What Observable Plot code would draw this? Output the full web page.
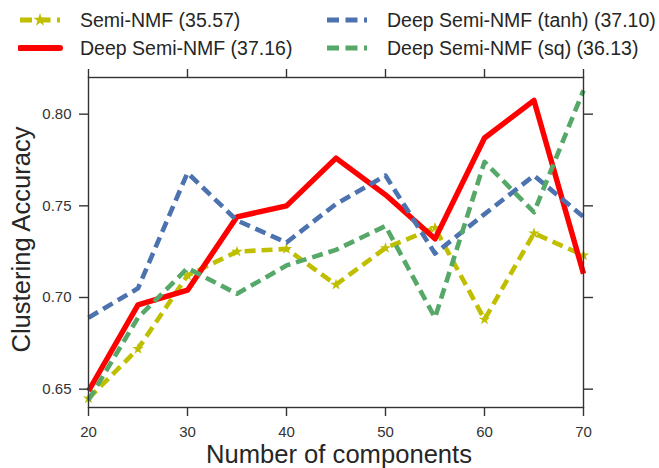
<!DOCTYPE html>
<html>
<head>
<meta charset="utf-8">
<script src="https://cdn.jsdelivr.net/npm/d3@7"></script>
<script src="https://cdn.jsdelivr.net/npm/@observablehq/plot@0.6"></script>
<style>
  html, body { margin: 0; padding: 0; background: #fff; }
  #wrap { position: relative; width: 659px; height: 468px; font-family: "Liberation Sans", Arial, sans-serif; color: #262626; }
  #chart { position: absolute; left: 0; top: 0; }
  .leg { position: absolute; display: flex; align-items: center; font-size: 19.5px; white-space: nowrap; height: 26px; }
  .leg svg { display: block; }
</style>
</head>
<body>
<div id="wrap">
  <div id="chart"></div>
  <div id="legend"></div>
</div>
<script>
// ---- data ----
const components = [20, 25, 30, 35, 40, 45, 50, 55, 60, 65, 70];
const semiNMF     = [0.645, 0.672, 0.712, 0.725, 0.7265, 0.707, 0.727, 0.738, 0.688, 0.735, 0.723];
const deepSemiNMF = [0.649, 0.696, 0.704, 0.744, 0.750, 0.776, 0.756, 0.732, 0.787, 0.8075, 0.713];
const deepTanh    = [0.689, 0.705, 0.768, 0.742, 0.730, 0.751, 0.7665, 0.724, 0.7455, 0.7665, 0.744];
const deepSq      = [0.644, 0.689, 0.716, 0.702, 0.7175, 0.726, 0.739, 0.689, 0.774, 0.7465, 0.813];
const seriesNames = ["Semi-NMF (35.57)", "Deep Semi-NMF (37.16)", "Deep Semi-NMF (tanh) (37.10)", "Deep Semi-NMF (sq) (36.13)"];
const xTicks = [20, 30, 40, 50, 60, 70];
const yTicks = [0.65, 0.70, 0.75, 0.80];
const xLabel = "Number of components";
const yLabel = "Clustering Accuracy";

// ---- styles ----
const colors = ["#bfbf00", "#ff0000", "#4c72b0", "#55a868"];
const dashed = [true, false, true, true];
const seriesValues = [semiNMF, deepSemiNMF, deepTanh, deepSq];
const rows = seriesValues.map((vals, i) => components.map((c, j) => ({x: c, y: vals[j], s: seriesNames[i]})));

const FONT = "'Liberation Sans', Arial, sans-serif";
const AXIS = "#333333";

const lineMarks = rows.map((data, i) => Plot.line(data, {
  x: "x", y: "y",
  stroke: colors[i],
  strokeWidth: dashed[i] ? 4.6 : 5.4,
  strokeDasharray: dashed[i] ? "11,6" : null,
  strokeLinecap: "butt",
  strokeLinejoin: "round"
}));

const chart = Plot.plot({
  width: 659,
  height: 468,
  marginLeft: 88,
  marginRight: 76,
  marginTop: 77,
  marginBottom: 61,
  style: {fontFamily: FONT, color: AXIS, background: "#fff", overflow: "visible"},
  x: {domain: [20, 70]},
  y: {domain: [0.64, 0.82]},
  marks: [
    lineMarks[0],
    Plot.dot(rows[0], {x: "x", y: "y", symbol: "star", r: 3.6, fill: colors[0], stroke: "none"}),
    lineMarks[1],
    lineMarks[2],
    lineMarks[3],
    Plot.frame({stroke: AXIS, strokeWidth: 1.4}),
    Plot.axisY({anchor: "left", ticks: yTicks, tickFormat: d3.format(".2f"), tickSize: 9, tickPadding: 8, fontSize: 15, stroke: AXIS, strokeWidth: 1.4, fill: "#333", label: null}),
    Plot.axisY({anchor: "right", ticks: yTicks, tickFormat: () => "", tickSize: 9, stroke: AXIS, strokeWidth: 1.4, label: null}),
    Plot.axisX({anchor: "bottom", ticks: xTicks, tickFormat: d3.format("d"), tickSize: 9, tickPadding: 10, fontSize: 15, stroke: AXIS, strokeWidth: 1.4, fill: "#333", label: null}),
    Plot.axisX({anchor: "top", ticks: xTicks, tickFormat: () => "", tickSize: 9, stroke: AXIS, strokeWidth: 1.4, label: null}),
    Plot.text([xLabel], {text: d => d, frameAnchor: "bottom", dx: 3, dy: 47, fontSize: 25.6, fill: "#262626", lineAnchor: "middle", textAnchor: "middle"}),
    Plot.text([yLabel], {text: d => d, frameAnchor: "left", dx: -67, dy: -3, rotate: -90, fontSize: 25.6, fill: "#262626", lineAnchor: "middle", textAnchor: "middle"})
  ]
});
document.getElementById("chart").appendChild(chart);

// ---- legend (HTML, above the plot area) ----
const legendPos = [
  {left: 18, top: 7, textLeft: 80},
  {left: 18, top: 35, textLeft: 80},
  {left: 325, top: 7, textLeft: 387},
  {left: 325, top: 35, textLeft: 387}
];
const legend = document.getElementById("legend");
seriesNames.forEach((name, i) => {
  const p = legendPos[i];
  const item = document.createElement("div");
  item.className = "leg";
  item.style.left = p.left + "px";
  item.style.top = p.top + "px";
  const ns = "http://www.w3.org/2000/svg";
  const sw = document.createElementNS(ns, "svg");
  sw.setAttribute("width", p.textLeft - p.left);
  sw.setAttribute("height", 26);
  const ln = document.createElementNS(ns, "line");
  ln.setAttribute("x1", 2); ln.setAttribute("x2", 42);
  ln.setAttribute("y1", 13); ln.setAttribute("y2", 13);
  ln.setAttribute("stroke", colors[i]);
  ln.setAttribute("stroke-width", dashed[i] ? 4.8 : 6);
  if (dashed[i]) ln.setAttribute("stroke-dasharray", "12,6.5");
  ln.setAttribute("stroke-linecap", dashed[i] ? "butt" : "round");
  sw.appendChild(ln);
  if (i === 0) {
    const star = document.createElementNS(ns, "path");
    star.setAttribute("d", d3.symbol(d3.symbolStar, 55)());
    star.setAttribute("transform", "translate(22,13)");
    star.setAttribute("fill", colors[i]);
    sw.appendChild(star);
  }
  item.appendChild(sw);
  const t = document.createElement("span");
  t.textContent = name;
  item.appendChild(t);
  legend.appendChild(item);
});
</script>
</body>
</html>
